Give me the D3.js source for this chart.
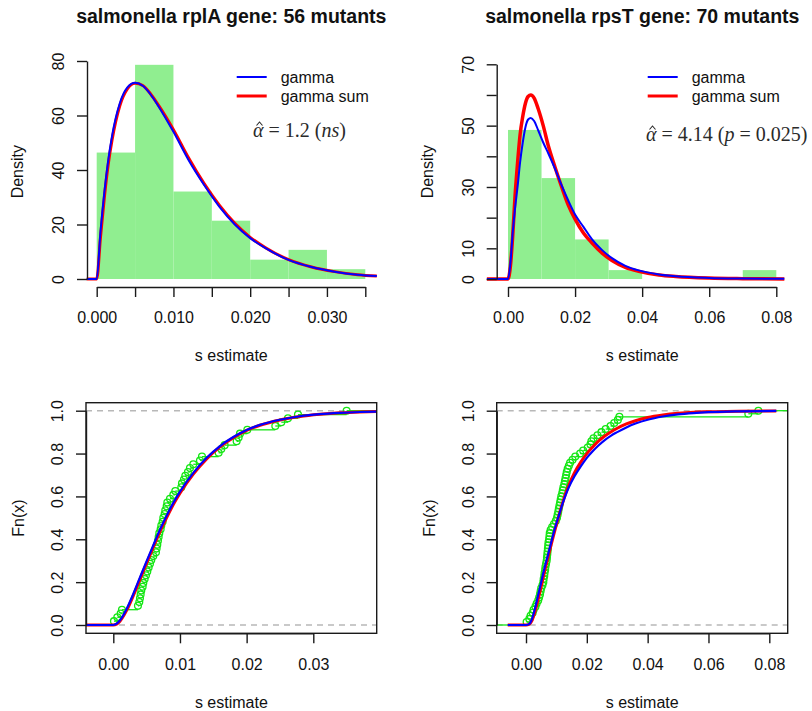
<!DOCTYPE html>
<html>
<head>
<meta charset="utf-8">
<script src="https://cdn.jsdelivr.net/npm/d3@7"></script>
<style>
  body { margin: 0; background: #fff; }
  svg text { font-family: "Liberation Sans", Arial, Helvetica, sans-serif; fill: #111; }
</style>
</head>
<body>
<div id="chart"></div>
<script>
// ---------- rplA gene: 56 mutants ----------
const rplaBreaks = [0, 0.005, 0.010, 0.015, 0.020, 0.025, 0.030, 0.035];
const rplaDensity = [46.4, 78.6, 32.1, 21.4, 7.1, 10.7, 3.6];

// density curves
const rplaCurveX = [-0.0013, 0, 0.0005, 0.001, 0.0015, 0.002, 0.003, 0.004, 0.005, 0.006, 0.007, 0.008,
  0.010, 0.012, 0.014, 0.016, 0.018, 0.020, 0.022, 0.025, 0.028, 0.031, 0.034, 0.0365];
const rplaGamma = [0, 0, 17.7, 32.0, 43.5, 52.5, 64.4, 70.3, 72.0, 70.9, 67.8, 63.6,
  54.0, 43.5, 34.5, 26.5, 20.0, 15.0, 11.3, 7.0, 4.4, 2.7, 1.6, 1.1];
const rplaGammaSum = [0, 0, 15.5, 30.0, 42.0, 51.0, 63.5, 69.8, 71.8, 71.0, 68.0, 64.0,
  54.8, 44.3, 35.0, 27.0, 20.4, 15.3, 11.5, 7.1, 4.4, 2.7, 1.6, 1.1];

// sorted s estimates (ecdf points)
const rplaS = [0.0001, 0.0006, 0.0011, 0.0013, 0.0037, 0.0039, 0.0040, 0.0041, 0.0042, 0.0044, 0.0045, 0.0047, 0.0049,
  0.0051, 0.0053, 0.0055, 0.0057, 0.0060, 0.0064, 0.0065, 0.0066, 0.0067, 0.0068, 0.0069, 0.0071, 0.0072,
  0.0074, 0.0075, 0.0077, 0.0078, 0.0080, 0.0081, 0.0085, 0.0090, 0.0093,
  0.0102, 0.0103, 0.0106, 0.0108, 0.0112, 0.0115, 0.0120, 0.0130, 0.0133,
  0.0158, 0.0162, 0.0167, 0.0185, 0.0188, 0.0190,
  0.0201, 0.0243, 0.0252, 0.0262, 0.0277, 0.0350];

// cdf curves
const rplaCdfX = [-0.0041, 0, 0.0005, 0.001, 0.002, 0.003, 0.004, 0.005, 0.006, 0.007, 0.008, 0.009, 0.010,
  0.012, 0.014, 0.016, 0.018, 0.020, 0.022, 0.025, 0.028, 0.031, 0.034, 0.037, 0.0395];
const rplaCdfGamma = [0, 0, 0.006, 0.022, 0.075, 0.145, 0.222, 0.298, 0.372, 0.445, 0.510, 0.570, 0.622,
  0.710, 0.780, 0.835, 0.877, 0.910, 0.934, 0.958, 0.974, 0.984, 0.990, 0.994, 0.996];
const rplaCdfGammaSum = [0, 0, 0.004, 0.018, 0.068, 0.137, 0.213, 0.289, 0.363, 0.436, 0.501, 0.562, 0.615,
  0.704, 0.775, 0.831, 0.874, 0.908, 0.932, 0.957, 0.973, 0.983, 0.990, 0.994, 0.996];

// ---------- rpsT gene: 70 mutants ----------
const rpstBreaks = [0, 0.01, 0.02, 0.03, 0.04, 0.05, 0.06, 0.07, 0.08];
const rpstDensity = [48.6, 32.9, 12.9, 2.9, 0, 0, 0, 2.9];

const rpstCurveX = [-0.0063, 0, 0.0007, 0.0014, 0.0021, 0.0029, 0.0036, 0.0044, 0.0052, 0.0060, 0.0068, 0.0078,
  0.0090, 0.0105, 0.0120, 0.0140, 0.0160, 0.0180, 0.0200, 0.0225, 0.0250, 0.0280, 0.0310, 0.0350,
  0.0390, 0.0450, 0.0500, 0.0600, 0.0700, 0.0824];
const rpstGamma = [0, 0, 5, 15, 23, 30.5, 38, 44.5, 49.5, 52, 52.5, 51.5,
  48.5, 44.5, 41, 36, 30.5, 25.5, 21, 17, 13, 9.5, 6.8, 4.3,
  2.8, 1.5, 0.9, 0.35, 0.15, 0.05];
const rpstGammaSum = [0, 0, 4, 14, 27, 38.5, 47, 53, 57.3, 59.5, 60, 59,
  55.5, 50, 43.5, 36.5, 30, 24, 19.5, 15, 11.8, 8.5, 6, 3.8,
  2.5, 1.3, 0.8, 0.3, 0.12, 0.04];

const rpstS = [0.0002, 0.0011, 0.0015, 0.0022, 0.0025, 0.0031, 0.0035, 0.0040, 0.0043, 0.0046,
  0.0048, 0.0050, 0.0054, 0.0057, 0.0058, 0.0060, 0.0061, 0.0063, 0.0064, 0.0066,
  0.0068, 0.0069, 0.0070, 0.0071, 0.0072, 0.0073, 0.0074, 0.0076, 0.0077, 0.0078,
  0.0081, 0.0086, 0.0092, 0.0098,
  0.0102, 0.0104, 0.0106, 0.0108, 0.0110, 0.0112, 0.0114, 0.0116, 0.0119, 0.0121,
  0.0123, 0.0126, 0.0128, 0.0130, 0.0132, 0.0134, 0.0137, 0.0141, 0.0145, 0.0153,
  0.0162, 0.0178, 0.0188,
  0.0203, 0.0212, 0.0215, 0.0222, 0.0235, 0.0248, 0.0262, 0.0278, 0.0290,
  0.0302, 0.0307, 0.0731, 0.0764];

const rpstCdfX = [-0.006, 0, 0.001, 0.002, 0.003, 0.004, 0.005, 0.006, 0.007, 0.008, 0.009, 0.010, 0.011,
  0.012, 0.013, 0.014, 0.016, 0.018, 0.020, 0.022, 0.024, 0.026, 0.028, 0.030, 0.033, 0.036,
  0.040, 0.045, 0.050, 0.055, 0.060, 0.070, 0.0823];
const rpstCdfGamma = [0, 0, 0.004, 0.03, 0.08, 0.14, 0.2, 0.26, 0.315, 0.37, 0.425, 0.475, 0.52,
  0.565, 0.605, 0.64, 0.695, 0.74, 0.78, 0.812, 0.84, 0.864, 0.884, 0.9, 0.922, 0.94,
  0.958, 0.973, 0.983, 0.989, 0.993, 0.997, 0.999];
const rpstCdfGammaSum = [0, 0, 0.003, 0.022, 0.065, 0.12, 0.18, 0.243, 0.303, 0.36, 0.415, 0.468, 0.52,
  0.568, 0.612, 0.65, 0.712, 0.76, 0.8, 0.832, 0.86, 0.883, 0.902, 0.918, 0.938, 0.953,
  0.968, 0.98, 0.988, 0.993, 0.995, 0.998, 0.999];

// colours
const histFill = "#90ee90";
const ecdfColor = "#14e614";
const blue = "#0000ff";
const red = "#ff0000";

const svg = d3.select("#chart").append("svg")
  .attr("width", 812)
  .attr("height", 711);

const line = (x, y) => d3.line().x(d => x(d[0])).y(d => y(d[1])).curve(d3.curveMonotoneX);

// style an axis group like R's base graphics
function styleAxis(g) {
  g.attr("font-size", 16)
    .attr("font-family", "Liberation Sans, Arial, sans-serif")
    .attr("color", "#1a1a1a");
  g.selectAll("path, line").attr("stroke-width", 1.4);
}

function leftAxis(x0, y, ticks, labels) {
  const g = svg.append("g")
    .attr("transform", `translate(${x0},0)`)
    .call(d3.axisLeft(y).tickValues(ticks).tickSize(10).tickSizeOuter(0)
      .tickFormat((d, i) => labels[i]));
  styleAxis(g);
  g.selectAll("text")
    .attr("x", 0).attr("y", -23).attr("dy", null)
    .attr("text-anchor", "middle")
    .attr("transform", "rotate(-90)");
}

function bottomAxis(y0, x, ticks, labels) {
  const g = svg.append("g")
    .attr("transform", `translate(0,${y0})`)
    .call(d3.axisBottom(x).tickValues(ticks).tickSize(10).tickPadding(15).tickSizeOuter(0)
      .tickFormat((d, i) => labels[i]));
  styleAxis(g);
}

function histPanel(p) {
  const x = d3.scaleLinear().domain(p.xDomain).range(p.xRange);
  const y = d3.scaleLinear().domain(p.yDomain).range(p.yRange);

  // histogram bars
  svg.append("g").selectAll("rect")
    .data(p.density)
    .join("rect")
      .attr("x", (d, i) => x(p.breaks[i]))
      .attr("width", (d, i) => x(p.breaks[i + 1]) - x(p.breaks[i]))
      .attr("y", d => y(d))
      .attr("height", d => y(0) - y(d))
      .attr("fill", histFill);

  const gen = line(x, y);
  svg.append("path").datum(d3.zip(p.curveX, p.gammaSum))
    .attr("d", gen).attr("fill", "none").attr("stroke", red).attr("stroke-width", p.redWidth);
  svg.append("path").datum(d3.zip(p.curveX, p.gamma))
    .attr("d", gen).attr("fill", "none").attr("stroke", blue).attr("stroke-width", 2);

  bottomAxis(287, x, p.xTicks, p.xLabels);
  leftAxis(p.axisX, y, p.yTicks, p.yLabels);

  // legend
  const lg = svg.append("g").attr("transform", `translate(${p.legendX},77)`);
  [["gamma", blue, 2], ["gamma sum", red, 3]].forEach(([name, col, w], i) => {
    lg.append("line").attr("x1", 0).attr("x2", 30).attr("y1", i * 19).attr("y2", i * 19)
      .attr("stroke", col).attr("stroke-width", w);
    lg.append("text").attr("x", 44).attr("y", i * 19 + 5.5)
      .attr("font-size", 16).text(name);
  });

  // fitted shape annotation: alpha-hat = ...
  const t = svg.append("text")
    .attr("x", p.noteX).attr("y", p.noteY)
    .attr("font-size", 20)
    .style("font-family", "'Liberation Serif', 'DejaVu Serif', serif")
    .style("fill", "#2a2a2a");
  p.note.forEach(([s, it]) => t.append("tspan").attr("font-style", it ? "italic" : null).text(s));
  // the hat over alpha, drawn as a small stroke
  svg.append("path")
    .attr("transform", `translate(${p.noteX},${p.noteY})`)
    .attr("d", "M3.5,-11.5L6.5,-15L9.5,-11.5")
    .attr("fill", "none").attr("stroke", "#2a2a2a").attr("stroke-width", 1.1);

  // title and axis titles
  svg.append("text").attr("x", p.center).attr("y", 23).attr("text-anchor", "middle")
    .attr("font-size", 19.5).attr("font-weight", "bold").text(p.title);
  svg.append("text").attr("x", p.center).attr("y", 361).attr("text-anchor", "middle")
    .attr("font-size", 16).text("s estimate");
  svg.append("text").attr("transform", `translate(${p.axisX - 64},171.7) rotate(-90)`)
    .attr("text-anchor", "middle").attr("font-size", 16).text("Density");
}

function ecdfPanel(p) {
  const x = d3.scaleLinear().domain(p.xDomain).range(p.xRange);
  const y = d3.scaleLinear().domain([0, 1]).range([625, 410.7]);
  const [bx0, bx1, by0, by1] = [p.box[0], p.box[1], 402.7, 633.3];
  const lo = x.invert(bx0), hi = x.invert(bx1);
  const n = p.s.length;

  // reference lines at 0 and 1
  svg.append("g").selectAll("line")
    .data([0, 1])
    .join("line")
      .attr("x1", bx0).attr("x2", bx1)
      .attr("y1", d => y(d)).attr("y2", d => y(d))
      .attr("stroke", "#b8b8b8").attr("stroke-width", 1.5)
      .attr("stroke-dasharray", "6,5");

  // ecdf steps
  const edges = [lo, ...p.s, hi];
  svg.append("g").selectAll("line")
    .data(d3.range(n + 1))
    .join("line")
      .attr("x1", i => x(edges[i])).attr("x2", i => x(edges[i + 1]))
      .attr("y1", i => y(i / n)).attr("y2", i => y(i / n))
      .attr("stroke", ecdfColor).attr("stroke-width", 1.3);
  svg.append("g").selectAll("circle")
    .data(p.s)
    .join("circle")
      .attr("cx", d => x(d)).attr("cy", (d, i) => y((i + 1) / n))
      .attr("r", 3.4)
      .attr("fill", "none").attr("stroke", ecdfColor).attr("stroke-width", 1.3);

  const gen = line(x, y);
  svg.append("path").datum(d3.zip(p.cdfX, p.cdfSum))
    .attr("d", gen).attr("fill", "none").attr("stroke", red).attr("stroke-width", 3);
  svg.append("path").datum(d3.zip(p.cdfX, p.cdf))
    .attr("d", gen).attr("fill", "none").attr("stroke", blue).attr("stroke-width", 2.2);

  svg.append("rect").attr("x", bx0).attr("y", by0)
    .attr("width", bx1 - bx0).attr("height", by1 - by0)
    .attr("fill", "none").attr("stroke", "#1a1a1a").attr("stroke-width", 1.4);

  bottomAxis(by1, x, p.xTicks, p.xLabels);
  leftAxis(bx0, y, [0, 0.2, 0.4, 0.6, 0.8, 1], ["0.0", "0.2", "0.4", "0.6", "0.8", "1.0"]);

  const center = (bx0 + bx1) / 2;
  svg.append("text").attr("x", center).attr("y", 708).attr("text-anchor", "middle")
    .attr("font-size", 16).text("s estimate");
  svg.append("text").attr("transform", `translate(${bx0 - 62},518) rotate(-90)`)
    .attr("text-anchor", "middle").attr("font-size", 16).text("Fn(x)");
}

histPanel({
  title: "salmonella rplA gene: 56 mutants", center: 231.3,
  xDomain: [0, 0.035], xRange: [96.7, 365.3],
  yDomain: [0, 80], yRange: [279, 61], axisX: 87,
  breaks: rplaBreaks, density: rplaDensity,
  curveX: rplaCurveX, gamma: rplaGamma, gammaSum: rplaGammaSum, redWidth: 3,
  xTicks: d3.range(8).map(i => i * 0.005),
  xLabels: ["0.000", "", "0.010", "", "0.020", "", "0.030", ""],
  yTicks: [0, 20, 40, 60, 80], yLabels: ["0", "20", "40", "60", "80"],
  legendX: 236.7, noteX: 253, noteY: 137,
  note: [["α", true], [" = 1.2 (", false], ["ns", true], [")", false]]
});

histPanel({
  title: "salmonella rpsT gene: 70 mutants", center: 642.3,
  xDomain: [0, 0.08], xRange: [508, 776.3],
  yDomain: [0, 70], yRange: [279, 64.3], axisX: 496.7,
  breaks: rpstBreaks, density: rpstDensity,
  curveX: rpstCurveX, gamma: rpstGamma, gammaSum: rpstGammaSum, redWidth: 3.5,
  xTicks: [0, 0.02, 0.04, 0.06, 0.08],
  xLabels: ["0.00", "0.02", "0.04", "0.06", "0.08"],
  yTicks: d3.range(8).map(i => i * 10), yLabels: ["0", "10", "", "30", "", "50", "", "70"],
  legendX: 647.7, noteX: 646, noteY: 141,
  note: [["α", true], [" = 4.14 (", false], ["p", true], [" = 0.025)", false]]
});

ecdfPanel({
  xDomain: [0, 0.03], xRange: [113.3, 313.3], box: [86, 376.7],
  s: rplaS, cdfX: rplaCdfX, cdf: rplaCdfGamma, cdfSum: rplaCdfGammaSum,
  xTicks: [0, 0.01, 0.02, 0.03], xLabels: ["0.00", "0.01", "0.02", "0.03"]
});

ecdfPanel({
  xDomain: [0, 0.08], xRange: [526, 769.3], box: [496.7, 787.7],
  s: rpstS, cdfX: rpstCdfX, cdf: rpstCdfGamma, cdfSum: rpstCdfGammaSum,
  xTicks: [0, 0.02, 0.04, 0.06, 0.08], xLabels: ["0.00", "0.02", "0.04", "0.06", "0.08"]
});
</script>
</body>
</html>
